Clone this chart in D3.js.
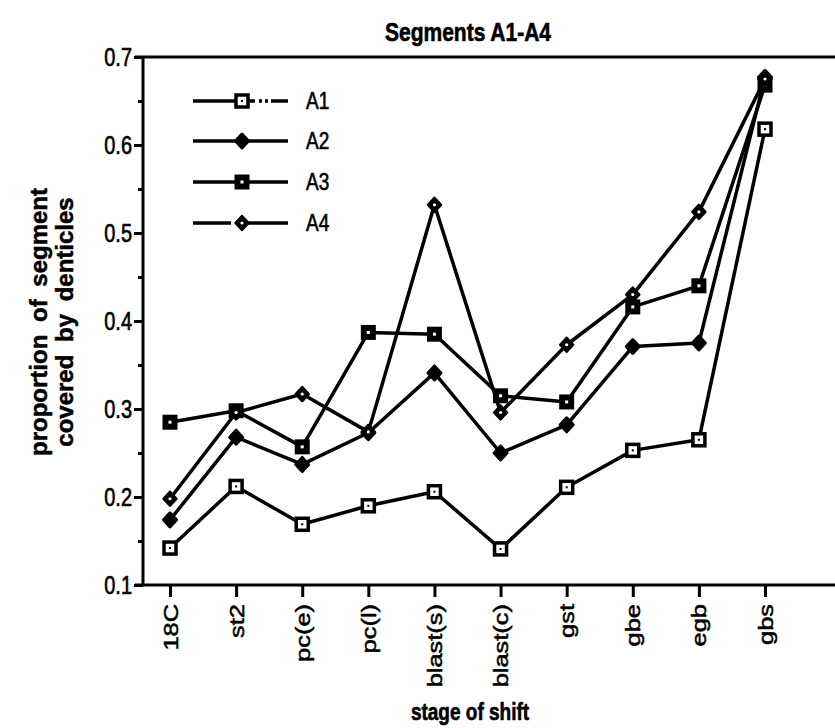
<!DOCTYPE html>
<html>
<head>
<meta charset="utf-8">
<script src="https://cdn.jsdelivr.net/npm/d3@7"></script>
<style>
  body { margin: 0; background: #fff; }
  text { font-family: "Liberation Sans", Arial, sans-serif; fill: #000; }
  .heavy { stroke: #000; stroke-width: 0.5px; }
</style>
</head>
<body>
<div id="chart-area"></div>
<script>
// Data
var stages = ["18C", "st2", "pc(e)", "pc(l)", "blast(s)", "blast(c)", "gst", "gbe", "egb", "gbs"];
var a1 = [0.142, 0.212, 0.169, 0.190, 0.206, 0.141, 0.211, 0.253, 0.265, 0.618];
var a2 = [0.174, 0.268, 0.237, 0.273, 0.341, 0.250, 0.282, 0.371, 0.375, 0.677];
var a3 = [0.285, 0.298, 0.257, 0.387, 0.385, 0.315, 0.308, 0.416, 0.440, 0.668];
var a4 = [0.198, 0.296, 0.317, 0.274, 0.532, 0.296, 0.373, 0.430, 0.524, 0.675];
var seriesNames = ["A1", "A2", "A3", "A4"];
var yTicks = [0.1, 0.2, 0.3, 0.4, 0.5, 0.6, 0.7];
var yMinor = [0.15, 0.25, 0.35, 0.45, 0.55, 0.65];

var width = 835, height = 728;
var plotLeft = 143, plotRight = 835, plotTop = 57, plotBottom = 585;

var svg = d3.select("#chart-area").append("svg")
    .attr("width", width)
    .attr("height", height);

// Scales
var x = d3.scalePoint()
    .domain(stages)
    .range([170, 765]);

var y = d3.scaleLinear()
    .domain([0.1, 0.7])
    .range([plotBottom, plotTop]);

// Title
svg.append("text")
    .attr("transform", "translate(468,41) scale(1,1.25)")
    .attr("text-anchor", "middle")
    .attr("class", "heavy")
    .style("font-size", "21px")
    .style("font-weight", "bold")
    .text("Segments A1-A4");

// Y axis (major + minor ticks)
var yAxisGroup = svg.append("g")
    .attr("transform", "translate(" + plotLeft + ",0)")
    .call(d3.axisLeft(y).tickValues(yTicks).tickSize(9).tickFormat(d3.format(".1f")));
yAxisGroup.select(".domain").remove();
yAxisGroup.selectAll("line").attr("stroke-width", 3);
yAxisGroup.selectAll("text")
    .attr("class", "heavy")
    .style("font-size", "20px")
    .attr("x", null).attr("dy", null)
    .attr("transform", "translate(-11,8) scale(1,1.25)");

var yMinorGroup = svg.append("g")
    .attr("transform", "translate(" + plotLeft + ",0)")
    .call(d3.axisLeft(y).tickValues(yMinor).tickSize(5).tickFormat(""));
yMinorGroup.select(".domain").remove();
yMinorGroup.selectAll("line").attr("stroke-width", 3);

// X axis
var xAxisGroup = svg.append("g")
    .attr("transform", "translate(0," + plotBottom + ")")
    .call(d3.axisBottom(x).tickSize(12));
xAxisGroup.select(".domain").remove();
xAxisGroup.selectAll("line").attr("stroke-width", 3);
xAxisGroup.selectAll("text")
    .attr("class", "heavy")
    .style("font-size", "20px")
    .attr("text-anchor", "end")
    .attr("x", null).attr("y", null).attr("dy", null)
    .attr("transform", "translate(7,19) rotate(-90) scale(1.27,1)");

// Frame lines: left axis, bottom axis, top line
svg.append("line").attr("x1", plotLeft).attr("x2", plotLeft).attr("y1", plotTop).attr("y2", plotBottom)
    .attr("stroke", "#000").attr("stroke-width", 3);
svg.append("line").attr("x1", plotLeft - 8).attr("x2", plotRight).attr("y1", plotBottom).attr("y2", plotBottom)
    .attr("stroke", "#000").attr("stroke-width", 3);
svg.append("line").attr("x1", plotLeft - 8).attr("x2", plotRight).attr("y1", plotTop).attr("y2", plotTop)
    .attr("stroke", "#000").attr("stroke-width", 3);

// Axis titles
svg.append("text")
    .attr("transform", "translate(47,322) rotate(-90)")
    .attr("text-anchor", "middle")
    .attr("class", "heavy")
    .style("font-size", "24px")
    .style("font-weight", "bold")
    .style("word-spacing", "6px")
    .text("proportion of segment");
svg.append("text")
    .attr("transform", "translate(73,322) rotate(-90)")
    .attr("text-anchor", "middle")
    .attr("class", "heavy")
    .style("font-size", "24px")
    .style("font-weight", "bold")
    .style("word-spacing", "6px")
    .text("covered by denticles");

svg.append("text")
    .attr("transform", "translate(470,720) scale(1,1.25)")
    .attr("text-anchor", "middle")
    .attr("class", "heavy")
    .style("font-size", "19px")
    .style("font-weight", "bold")
    .text("stage of shift");

// Marker drawing
function drawMarker(g, name) {
  if (name == "A1") {
    g.append("rect").attr("x", -6).attr("y", -6).attr("width", 12).attr("height", 12)
      .attr("fill", "#fff").attr("stroke", "#000").attr("stroke-width", 3.5);
    g.append("rect").attr("x", -1).attr("y", -1).attr("width", 2).attr("height", 2).attr("fill", "#000");
  } else if (name == "A2") {
    g.append("path").attr("d", "M0,-7L6.5,0L0,7L-6.5,0Z").attr("fill", "#000")
      .attr("stroke", "#000").attr("stroke-width", 3).attr("stroke-linejoin", "round");
  } else if (name == "A3") {
    g.append("rect").attr("x", -7.5).attr("y", -7.5).attr("width", 15).attr("height", 15)
      .attr("fill", "#000");
    g.append("rect").attr("x", -1.5).attr("y", -1.5).attr("width", 3).attr("height", 3).attr("fill", "#fff");
  } else {
    g.append("path").attr("d", "M0,-7L6.5,0L0,7L-6.5,0Z").attr("fill", "#000")
      .attr("stroke", "#000").attr("stroke-width", 2.5).attr("stroke-linejoin", "round");
    g.append("circle").attr("r", 1.6).attr("fill", "#fff");
  }
}

var allSeries = [a1, a2, a3, a4];

var line = d3.line()
    .x(function(d, i) { return x(stages[i]); })
    .y(function(d) { return y(d); });

allSeries.forEach(function(vals) {
  svg.append("path")
    .attr("d", line(vals))
    .attr("fill", "none")
    .attr("stroke", "#000")
    .attr("stroke-width", 3.5)
    .attr("stroke-linejoin", "round");
});

allSeries.forEach(function(vals, k) {
  vals.forEach(function(v, i) {
    var g = svg.append("g")
      .attr("transform", "translate(" + x(stages[i]) + "," + y(v) + ")");
    drawMarker(g, seriesNames[k]);
  });
});

// Legend
var legendY = [101, 141, 182, 223];
seriesNames.forEach(function(name, k) {
  var ly = legendY[k];
  var seg = svg.append("line")
    .attr("x1", 193).attr("x2", 288).attr("y1", ly).attr("y2", ly)
    .attr("stroke", "#000").attr("stroke-width", 3.5);
  if (name == "A4") seg.attr("stroke-dasharray", "38,6,60");
  if (name == "A1") seg.attr("stroke-dasharray", "62,4,3,3,3,3,30");
  var g = svg.append("g").attr("transform", "translate(242," + ly + ")");
  drawMarker(g, name);
  svg.append("text")
    .attr("transform", "translate(306," + (ly + 8) + ") scale(1,1.25)")
    .attr("class", "heavy")
    .style("font-size", "19px")
    .text(name);
});
</script>
</body>
</html>
